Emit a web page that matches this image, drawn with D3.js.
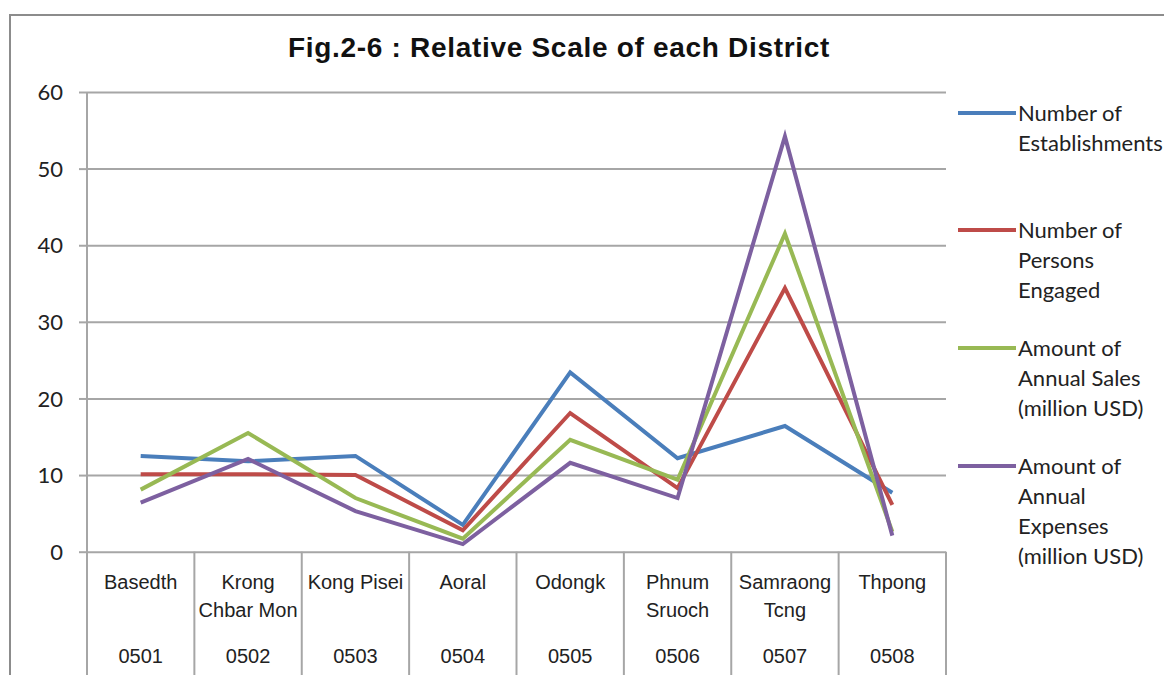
<!DOCTYPE html>
<html>
<head>
<meta charset="UTF-8">
<title>Fig.2-6 : Relative Scale of each District</title>
<script src="https://d3js.org/d3.v7.min.js"></script>
<style>
    body {
        margin: 0;
        background-color: #fff;
    }
    .grid line {
        stroke: #a6a6a6;
        stroke-width: 2;
    }
    .grid path {
        display: none;
    }
    .yaxis text {
        font-family: Lato, "Open Sans", sans-serif;
        font-size: 22px;
        fill: #222;
    }
    .cat {
        font-family: "Liberation Sans Narrow", "Arial Narrow", sans-serif;
        font-size: 20px;
        fill: #222;
    }
    .legend text {
        font-family: Lato, "Open Sans", sans-serif;
        font-size: 22px;
        fill: #222;
    }
</style>
</head>
<body>
<svg id="main" width="1164" height="675"></svg>
<script>
    // districts (names split in lines) and codes
    var codes = ["0501", "0502", "0503", "0504", "0505", "0506", "0507", "0508"];
    var names = [["Basedth"], ["Krong", "Chbar Mon"], ["Kong Pisei"], ["Aoral"], ["Odongk"],
        ["Phnum", "Sruoch"], ["Samraong", "Tcng"], ["Thpong"]];
    var yTicks = [0, 10, 20, 30, 40, 50, 60];

    // series values
    var establishments = [12.5, 11.8, 12.5, 3.5, 23.4, 12.2, 16.4, 7.7];
    var persons = [10.1, 10.1, 10.0, 2.8, 18.1, 8.3, 34.4, 6.1];
    var sales = [8.1, 15.5, 7.0, 1.7, 14.6, 9.4, 41.5, 2.6];
    var expenses = [6.4, 12.1, 5.3, 1.0, 11.6, 7.0, 54.2, 2.1];

    var seriesNames = [["Number of", "Establishments"], ["Number of", "Persons", "Engaged"],
        ["Amount of", "Annual Sales", "(million USD)"], ["Amount of", "Annual", "Expenses", "(million USD)"]];
    var colors = ["#4a7ebb", "#be4b48", "#98b954", "#7d60a0"];

    var series = [establishments, persons, sales, expenses];

    function drawChart() {
        var svg = d3.select("#main");

        var plotLeft = 87, plotRight = 946, plotTop = 92, plotBottom = 551.7;

        var x = d3.scaleBand().domain(codes).range([plotLeft, plotRight]).padding(0);
        var y = d3.scaleLinear().domain([0, 60]).range([plotBottom, plotTop]);

        // outer frame
        svg.append("path")
            .attr("d", "M10,675 L10,15 L1164,15")
            .attr("fill", "none")
            .attr("stroke", "#8c8c8c")
            .attr("stroke-width", 2);

        // title
        svg.append("text")
            .attr("x", 559)
            .attr("y", 57)
            .attr("text-anchor", "middle")
            .style("font-family", "'Liberation Sans Narrow', 'Arial Narrow', sans-serif")
            .style("font-weight", "bold")
            .style("font-size", "28px")
            .style("letter-spacing", "0.7px")
            .style("fill", "#111")
            .text("Fig.2-6 : Relative Scale of each District");

        // gridlines
        svg.append("g")
            .attr("class", "grid")
            .attr("transform", "translate(" + plotLeft + ",0)")
            .call(d3.axisRight(y).tickValues(yTicks).tickSize(plotRight - plotLeft).tickFormat(""));

        // y axis with ticks + labels
        var yax = svg.append("g")
            .attr("class", "grid yaxis")
            .attr("transform", "translate(" + plotLeft + ",0)")
            .call(d3.axisLeft(y).tickValues(yTicks).tickSize(8).tickPadding(16));
        yax.selectAll("text").attr("dy", "0.35em");

        // y axis line and category separators
        var edges = codes.map(function(c) { return x(c); }).concat([plotRight]);
        svg.selectAll(".sep")
            .data(edges)
            .enter()
            .append("line")
            .attr("class", "sep")
            .attr("x1", d => d)
            .attr("x2", d => d)
            .attr("y1", (d, i) => i == 0 ? plotTop : plotBottom)
            .attr("y2", 675)
            .attr("stroke", "#a6a6a6")
            .attr("stroke-width", 2);

        // category labels
        var catG = svg.append("g");
        codes.forEach(function(c, i) {
            var cx = x(c) + x.bandwidth() / 2;
            names[i].forEach(function(line, j) {
                catG.append("text")
                    .attr("class", "cat")
                    .attr("x", cx)
                    .attr("y", 589 + j * 28)
                    .attr("text-anchor", "middle")
                    .text(line);
            });
            catG.append("text")
                .attr("class", "cat")
                .attr("x", cx)
                .attr("y", 663)
                .attr("text-anchor", "middle")
                .text(c);
        });

        // lines
        var line = d3.line()
            .x((d, i) => x(codes[i]) + x.bandwidth() / 2)
            .y(d => y(d));

        svg.selectAll(".series")
            .data(series)
            .enter()
            .append("path")
            .attr("class", "series")
            .attr("d", d => line(d))
            .attr("fill", "none")
            .attr("stroke", (d, i) => colors[i])
            .attr("stroke-width", 4)
            .attr("stroke-linejoin", "miter");

        // legend
        var legY = [113, 230, 348, 466];
        var legend = svg.append("g").attr("class", "legend");
        seriesNames.forEach(function(lines, i) {
            legend.append("line")
                .attr("x1", 958)
                .attr("x2", 1016)
                .attr("y1", legY[i])
                .attr("y2", legY[i])
                .attr("stroke", colors[i])
                .attr("stroke-width", 4);
            lines.forEach(function(t, j) {
                legend.append("text")
                    .attr("x", 1018)
                    .attr("y", legY[i] + j * 30)
                    .attr("dy", "0.35em")
                    .text(t);
            });
        });
    }

    drawChart();
</script>
</body>
</html>
